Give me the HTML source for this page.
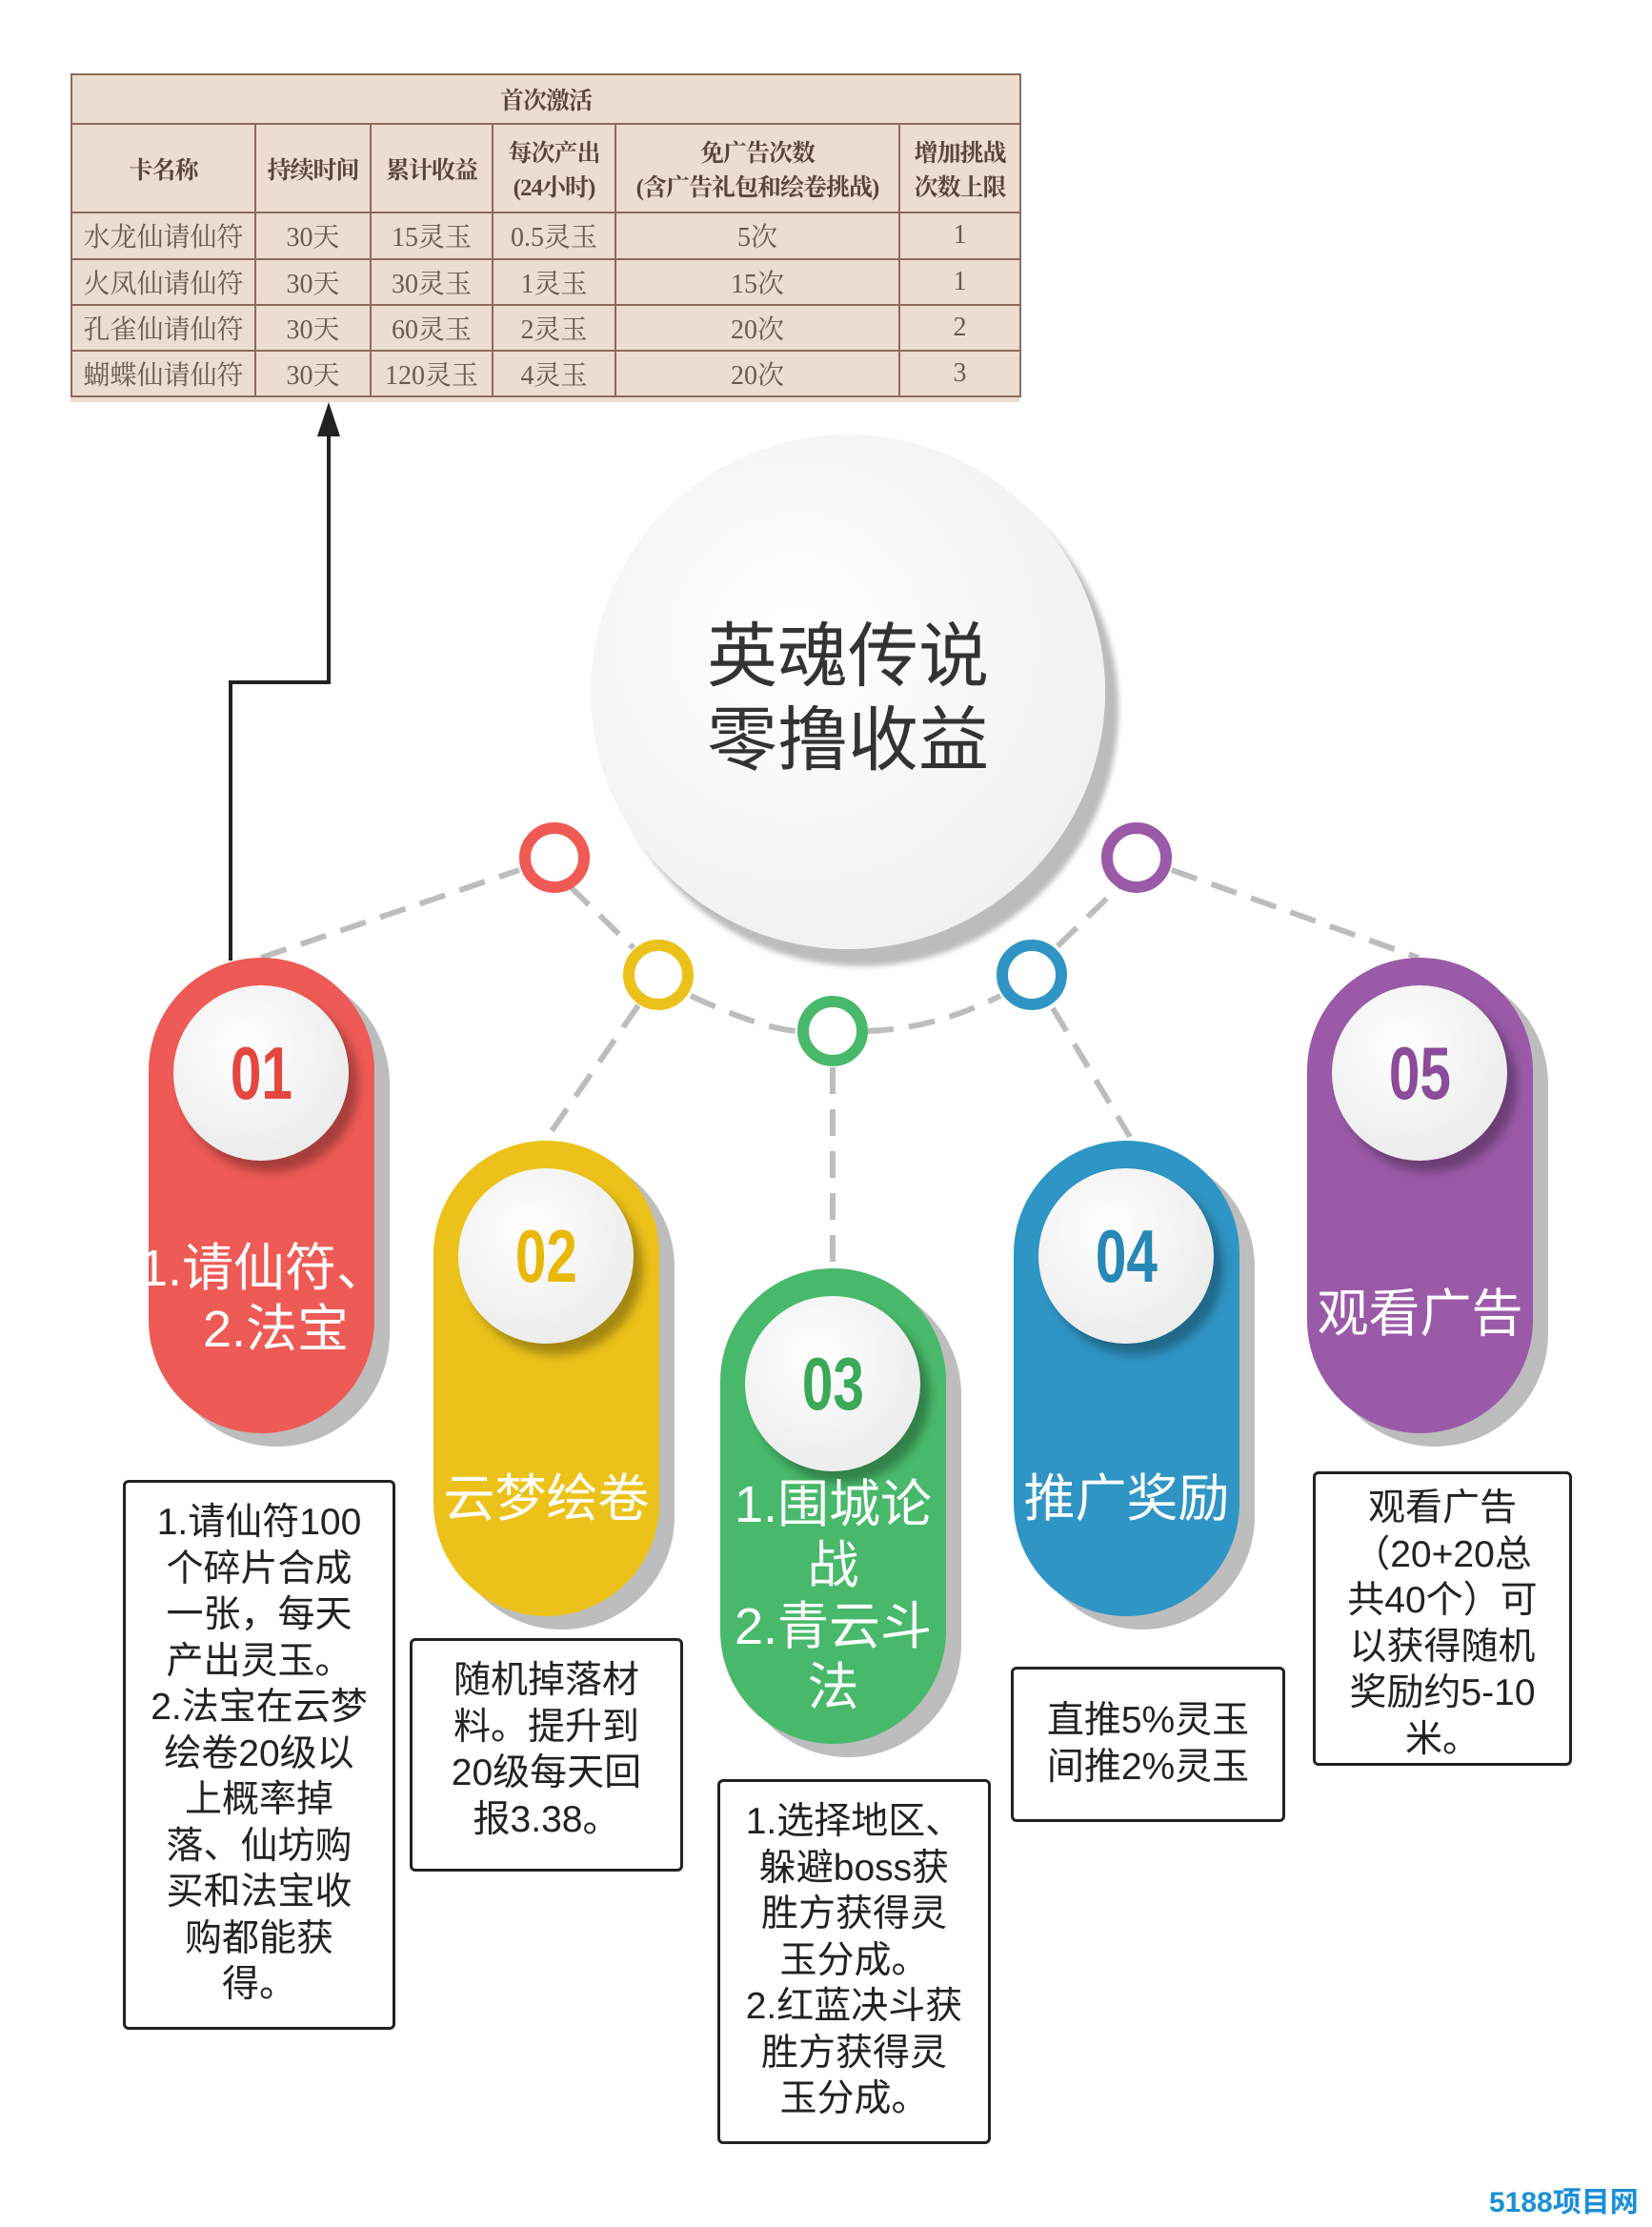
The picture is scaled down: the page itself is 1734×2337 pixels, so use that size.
<!DOCTYPE html>
<html><head><meta charset="utf-8"><style>
body{margin:0;width:1734px;height:2337px;background:#fff;position:relative;overflow:hidden;font-family:"Liberation Sans","Noto Sans CJK SC",sans-serif}
.a{position:absolute}
table{border-collapse:collapse;table-layout:fixed;font-family:"Liberation Serif","Noto Serif CJK SC",serif;color:#6a5a50;font-size:28px;text-align:center}
td{border:2px solid #8a6c5c;padding:0;white-space:nowrap;overflow:hidden}
.h td{font-weight:bold;color:#5a4438;font-size:25px;letter-spacing:-1px}
.pill{position:absolute;width:237px;height:499px;border-radius:119px;box-shadow:16px 14px 0 #bdbdbd}
.num{position:absolute;left:26px;top:29px;width:184px;height:184px;border-radius:50%;background:radial-gradient(circle at 40% 35%,#fff,#e6e6e6);box-shadow:10px 12px 10px rgba(0,0,0,.3);text-align:center;line-height:184px;font-weight:bold;font-size:78px;font-family:"Liberation Sans Narrow","Liberation Sans",sans-serif}
.num span{display:inline-block;transform:scaleX(.75)}
.pt{position:absolute;left:-10px;width:257px;text-align:center;color:#fff;font-size:54px;line-height:64px;white-space:nowrap}
.box{position:absolute;border:3px solid #222;border-radius:6px;background:#fff;text-align:center;font-size:39px;line-height:48.5px;color:#222;box-sizing:border-box;padding-top:18px}
</style></head><body>
<div class="a" style="left:74px;top:77px;width:996px;height:345px;background:#eddcd0">
<table style="width:996px;height:340px">
<colgroup><col style="width:193px"><col style="width:121px"><col style="width:128px"><col style="width:129px"><col style="width:298px"><col style="width:127px"></colgroup>
<tr class="h" style="height:52px"><td colspan="6">首次激活</td></tr>
<tr class="h" style="height:93px"><td>卡名称</td><td>持续时间</td><td>累计收益</td><td>每次产出<br>(24小时)</td><td>免广告次数<br>(含广告礼包和绘卷挑战)</td><td>增加挑战<br>次数上限</td></tr>
<tr style="height:48px"><td>水龙仙请仙符</td><td>30天</td><td>15灵玉</td><td>0.5灵玉</td><td>5次</td><td>1</td></tr>
<tr style="height:48px"><td>火凤仙请仙符</td><td>30天</td><td>30灵玉</td><td>1灵玉</td><td>15次</td><td>1</td></tr>
<tr style="height:48px"><td>孔雀仙请仙符</td><td>30天</td><td>60灵玉</td><td>2灵玉</td><td>20次</td><td>2</td></tr>
<tr style="height:48px"><td>蝴蝶仙请仙符</td><td>30天</td><td>120灵玉</td><td>4灵玉</td><td>20次</td><td>3</td></tr>
</table></div>

<div class="a" style="left:620px;top:456px;width:540px;height:540px;border-radius:50%;background:radial-gradient(circle at 40% 40%,#fff,#ececec);box-shadow:14px 18px 6px #bcbcbc"></div>
<div class="a" style="left:620px;top:645px;width:540px;text-align:center;font-size:74px;line-height:88px;color:#333">英魂传说<br>零撸收益</div>

<svg class="a" style="left:0;top:0" width="1734" height="2337">
<g stroke="#bdbdbd" stroke-width="6" stroke-dasharray="28 16" fill="none">
<path d="M274 1005 L545 913"/><path d="M1230 913 L1489 1005"/>
<path d="M598 930 L665 995"/><path d="M725 1045 Q800 1080 838 1082"/><path d="M910 1082 Q980 1080 1050 1045"/><path d="M1110 993 L1175 930"/>
<path d="M670 1055 L570 1200"/><path d="M874 1120 L874 1326"/><path d="M1105 1058 L1186 1193"/>
</g>
<g fill="none" stroke-width="12">
<circle cx="582" cy="900" r="31" stroke="#ef5a55"/>
<circle cx="691" cy="1023" r="31" stroke="#ecc21a"/>
<circle cx="874" cy="1082" r="31" stroke="#48b96a"/>
<circle cx="1083" cy="1023" r="31" stroke="#2f95c4"/>
<circle cx="1193" cy="900" r="31" stroke="#9a5aa8"/>
</g>
<path d="M242 1008 V716 H345 V450" stroke="#222" stroke-width="4" fill="none"/>
<path d="M345 422 L333 458 L357 458 Z" fill="#222"/>
</svg>

<div class="pill" style="left:156px;top:1005px;background:#ee5a55"><div class="num" style="color:#e4473f"><span>01</span></div><div class="pt" style="top:294px">1.请仙符、<br>&nbsp;&nbsp;2.法宝</div></div>
<div class="pill" style="left:455px;top:1197px;background:#ecc21a"><div class="num" style="color:#e8b90c"><span>02</span></div><div class="pt" style="top:344px">云梦绘卷</div></div>
<div class="pill" style="left:756px;top:1331px;background:#48b96a"><div class="num" style="color:#3aa95a"><span>03</span></div><div class="pt" style="top:216px">1.围城论<br>战<br>2.青云斗<br>法</div></div>
<div class="pill" style="left:1064px;top:1197px;background:#2f95c4"><div class="num" style="color:#2788b6"><span>04</span></div><div class="pt" style="top:344px">推广奖励</div></div>
<div class="pill" style="left:1372px;top:1005px;background:#9a5aa8"><div class="num" style="color:#8b4c99"><span>05</span></div><div class="pt" style="top:342px">观看广告</div></div>

<div class="box" style="left:129px;top:1553px;width:286px;height:577px">1.请仙符100<br>个碎片合成<br>一张，每天<br>产出灵玉。<br>2.法宝在云梦<br>绘卷20级以<br>上概率掉<br>落、仙坊购<br>买和法宝收<br>购都能获<br>得。</div>
<div class="box" style="left:430px;top:1719px;width:287px;height:245px">随机掉落材<br>料。提升到<br>20级每天回<br>报3.38。</div>
<div class="box" style="left:753px;top:1867px;width:287px;height:383px">1.选择地区、<br>躲避boss获<br>胜方获得灵<br>玉分成。<br>2.红蓝决斗获<br>胜方获得灵<br>玉分成。</div>
<div class="box" style="left:1061px;top:1749px;width:288px;height:163px;padding-top:30px">直推5%灵玉<br>间推2%灵玉</div>
<div class="box" style="left:1378px;top:1544px;width:272px;height:309px;padding-top:12px">观看广告<br>（20+20总<br>共40个）可<br>以获得随机<br>奖励约5-10<br>米。</div>

<div class="a" style="left:1563px;top:2286px;font-size:30px;font-weight:bold;color:#1a8fd8;white-space:nowrap">5188项目网</div>
</body></html>
